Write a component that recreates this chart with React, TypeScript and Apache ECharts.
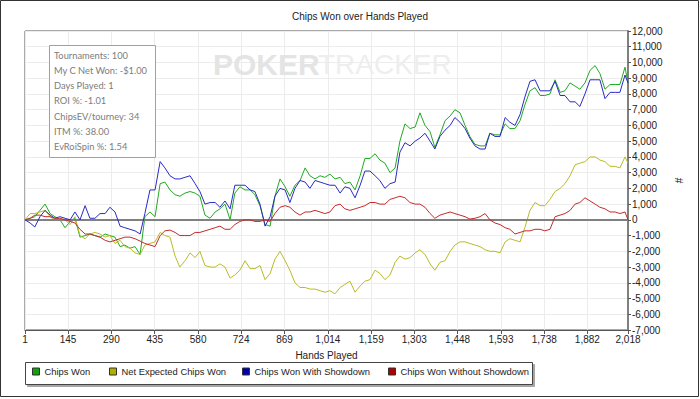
import React, { useEffect, useRef } from "react";
import * as echarts from "echarts";

// sample positions (hands) — one reading every ~16.7 hands, last one at hand 2018
const HAND_STEP = (2017 / 603) * 5;
const hands: number[] = Array.from({ length: 121 }, (_, i) => Math.round(1 + i * HAND_STEP)).concat([2018]);

const xTickValues = [1, 145, 290, 435, 580, 724, 869, 1014, 1159, 1303, 1448, 1593, 1738, 1882, 2018];

const seriesNames = [
  "Chips Won",
  "Net Expected Chips Won",
  "Chips Won With Showdown",
  "Chips Won Without Showdown",
];

const chipsWon = [
  0, 100, 200, 600, 1000, 400, 200, 0, -500, -100,
  100, -1100, -1000, -900, -1000, -1100, -900, -1000, -1100, -1700,
  -1600, -1800, -1700, -2200, 200, 500, 200, 2300, 2400, 1900,
  1600, 1500, 1700, 1800, 1700, 1500, 300, 100, 500, 700,
  1000, 0, 1700, 2100, 1900, 1900, 1600, 900, -300, -400,
  1500, 2600, 2100, 1500, 2200, 2500, 3300, 2800, 2600, 2800,
  2700, 2900, 2600, 2700, 2300, 2400, 1900, 2800, 3900, 3900,
  4200, 3800, 3600, 3000, 3300, 5000, 6100, 5800, 5900, 6800,
  6000, 5600, 4600, 5400, 6300, 6600, 7000, 6800, 6000, 5300,
  4800, 4700, 4700, 5500, 5400, 5400, 6100, 5800, 5800, 6300,
  7300, 8200, 8400, 7900, 7900, 8000, 8900, 8100, 8200, 8700,
  8500, 8300, 8700, 9500, 9800, 9300, 8300, 8600, 8600, 8600,
  9700, 8700,
];

const netExpected = [
  0, 400, 400, 500, 600, 200, 0, 0, 0, -300,
  200, -1000, -1200, -900, -800, -900, -1100, -1000, -1500, -1300,
  -1700, -1800, -2100, -2200, -1600, -1500, -1400, -800, -1000, -1100,
  -2300, -3000, -2600, -2100, -2400, -2000, -2900, -3000, -3000, -2800,
  -3000, -3700, -3500, -3200, -2600, -3100, -3100, -2900, -3800, -3400,
  -2500, -2000, -2600, -3200, -4000, -4300, -4300, -4400, -4400, -4500,
  -4600, -4500, -4700, -4300, -4100, -3900, -4600, -4200, -3900, -3800,
  -3200, -3400, -3800, -3500, -2700, -2300, -2500, -2400, -2100, -1900,
  -2200, -2800, -3200, -2700, -2600, -2000, -1600, -1400, -1400, -1500,
  -1600, -1700, -1900, -2000, -2000, -2100, -1400, -1200, -1300, -1400,
  -500, 600, 1100, 900, 900, 1300, 1800, 2000, 2300, 2800,
  3500, 3600, 3700, 4000, 4000, 3800, 3700, 3400, 3400, 3300,
  4000, 3600,
];

const withShowdown = [
  0, -200, -450, 200, 600, 300, 100, 200, 100, 0,
  500, 0, 900, 100, 100, 400, 400, 800, 500, -400,
  -500, -600, -700, -900, 400, 1900, 1900, 3700, 3300, 2800,
  2600, 2600, 2700, 2800, 2300, 1800, 1000, 1100, 1100, 800,
  1200, 700, 2200, 2200, 2200, 1900, 1800, 1000, -400, 200,
  1500, 2000, 1900, 1100, 2000, 2500, 2400, 2000, 2500, 2400,
  2300, 2200, 2200, 1700, 2100, 2000, 1400, 2200, 3100, 3100,
  2800, 2500, 2000, 2300, 2400, 4300, 4900, 4700, 5000, 5200,
  5500, 5000, 4500, 5300, 5700, 6000, 6500, 6200, 5800, 5200,
  4700, 4500, 4500, 5500, 5300, 5300, 6500, 6200, 6000, 6700,
  7800, 8800, 8900, 8200, 8200, 8200, 8800, 7900, 7900, 7500,
  7500, 7200, 8000, 8900, 8900, 8900, 7700, 8100, 8100, 8100,
  9200, 8700,
];

const withoutShowdown = [
  0, 100, 300, 300, 200, 200, 100, 100, 0, -100,
  -200, -600, -900, -900, -1000, -1100, -1300, -1400, -1300, -1200,
  -1100, -1100, -1200, -1350, -1500, -1600, -1700, -1000, -700, -650,
  -800, -1000, -1000, -1000, -800, -800, -700, -600, -500, -400,
  -600, -600, -300, -100, 0, 0, -100, -100, 0, -100,
  400, 800, 900, 800, 500, 300, 500, 500, 600, 500,
  400, 500, 900, 1000, 700, 600, 700, 800, 900, 1100,
  1100, 1000, 1000, 1300, 1400, 1500, 1400, 1100, 1000, 1000,
  800, 400, 100, 300, 400, 500, 400, 300, 200, 50,
  100, 200, 400, 0, -200, -300, -500, -600, -900, -800,
  -700, -700, -600, -600, -700, -600, 200, 300, 400, 600,
  1000, 1100, 1400, 1200, 1000, 800, 700, 500, 500, 400,
  500, 0,
];

const infoLines = [
  "Tournaments: 100",
  "My C Net Won: -$1.00",
  "Days Played: 1",
  "ROI %: -1.01",
  "ChipsEV/tourney: 34",
  "ITM %: 38.00",
  "EvRoiSpin %: 1.54",
];

const lineColors = ["#22a822", "#baba2a", "#2a2ac4", "#c42a2a"];
const iconColors = ["#10a010", "#b0b000", "#0000b0", "#b00000"];
const legendLefts = [32, 109, 242, 388];

const FONT = "'Liberation Sans', Arial, sans-serif";
const fmt = (v: number) => Math.round(v).toLocaleString("en-US");

export default function App() {
  const ref = useRef<HTMLDivElement>(null);

  useEffect(() => {
    if (!ref.current) return;
    const chart = echarts.init(ref.current, undefined, { renderer: "svg" });
    const seriesData = [chipsWon, netExpected, withShowdown, withoutShowdown];

    const graphic: any[] = [
      {
        type: "rect",
        z: 0,
        shape: { x: 0.5, y: 0.5, width: 698, height: 396 },
        style: { fill: "none", stroke: "#333", lineWidth: 1 },
      },
      {
        type: "text",
        z: 1,
        x: 213,
        y: 64,
        style: {
          text: "POKER",
          fontFamily: FONT,
          fontSize: 30,
          fontWeight: "bold",
          fill: "#e4e4e4",
          verticalAlign: "middle",
        },
      },
      {
        type: "text",
        z: 1,
        x: 318,
        y: 64,
        style: {
          text: "TRACKER",
          fontFamily: FONT,
          fontSize: 28,
          fill: "#eeeeee",
          verticalAlign: "middle",
        },
      },
      {
        type: "rect",
        z: 10,
        shape: { x: 49.5, y: 45.5, width: 106, height: 112 },
        style: { fill: "#fff", stroke: "#a0a0a0", lineWidth: 1 },
      },
      ...infoLines.map((t, i) => ({
        type: "text",
        z: 11,
        x: 54,
        y: 55 + i * 15.3,
        style: {
          text: t,
          fontFamily: "Lato, 'Open Sans', sans-serif",
          fontSize: 9.3,
          fill: "#7c7c7c",
          verticalAlign: "middle",
        },
      })),
      {
        type: "rect",
        z: 0,
        shape: { x: 25.5, y: 362.5, width: 507, height: 22 },
        style: {
          fill: "#fff",
          stroke: "#444",
          lineWidth: 1,
          shadowColor: "rgba(0,0,0,0.35)",
          shadowOffsetX: 2,
          shadowOffsetY: 2,
          shadowBlur: 1,
        },
      },
    ];

    chart.setOption({
      animation: false,
      backgroundColor: "#fff",
      textStyle: { fontFamily: FONT },
      title: {
        text: "Chips Won over Hands Played",
        left: 292,
        top: 11,
        padding: 0,
        textStyle: { fontSize: 10, fontWeight: "normal", color: "#222", fontFamily: FONT },
      },
      grid: {
        left: 25,
        right: 72,
        top: 31,
        bottom: 69,
        show: true,
        borderColor: "#555",
        borderWidth: 1,
        backgroundColor: "transparent",
      },
      xAxis: {
        type: "value",
        min: 1,
        max: 2018,
        name: "Hands Played",
        nameLocation: "middle",
        nameGap: 20,
        nameTextStyle: { fontSize: 10, color: "#222", fontFamily: FONT },
        axisLine: { show: true, onZero: false, lineStyle: { color: "#555", width: 1 } },
        axisTick: { show: true, length: 4, customValues: xTickValues, lineStyle: { color: "#555" } },
        axisLabel: {
          customValues: xTickValues,
          formatter: (v: number) => fmt(v),
          fontSize: 10,
          color: "#222",
          margin: 4,
          showMinLabel: true,
          showMaxLabel: true,
          hideOverlap: false,
        },
        splitLine: { show: true, lineStyle: { color: "#ececec", width: 1 } },
      },
      yAxis: {
        type: "value",
        position: "right",
        min: -7000,
        max: 12000,
        interval: 1000,
        name: "#",
        nameLocation: "middle",
        nameGap: 42,
        nameRotate: -90,
        nameTextStyle: { fontSize: 10, color: "#222", fontFamily: FONT },
        axisLine: { show: true, lineStyle: { color: "#808080", width: 2 } },
        axisTick: { show: true, length: 3, lineStyle: { color: "#555" } },
        axisLabel: { formatter: (v: number) => fmt(v), fontSize: 10, color: "#222", margin: 4 },
        splitLine: { show: true, lineStyle: { color: "#ececec", width: 1 } },
      },
      legend: seriesNames.map((n, i) => ({
        data: [{ name: n, itemStyle: { color: iconColors[i], borderColor: "#333", borderWidth: 1 } }],
        left: legendLefts[i],
        top: 367,
        padding: 0,
        icon: "rect",
        itemWidth: 7,
        itemHeight: 7,
        selectedMode: false,
        textStyle: { fontSize: 9.4, color: "#222", fontFamily: FONT },
      })),
      graphic,
      series: seriesNames.map((n, i) => ({
        name: n,
        type: "line",
        showSymbol: false,
        symbol: "none",
        data: hands.map((h, k) => [h, seriesData[i][k]]),
        lineStyle: { color: lineColors[i], width: 1 },
        itemStyle: { color: lineColors[i] },
        z: 3 + i,
        markLine:
          i === 0
            ? {
                silent: true,
                symbol: "none",
                label: { show: false },
                lineStyle: { color: "#808080", width: 2, type: "solid" },
                data: [{ yAxis: 0 }],
              }
            : undefined,
      })),
    });

    return () => chart.dispose();
  }, []);

  return (
    <div
      ref={ref}
      style={{ position: "fixed", left: 0, top: 0, width: 700, height: 399 }}
    />
  );
}
